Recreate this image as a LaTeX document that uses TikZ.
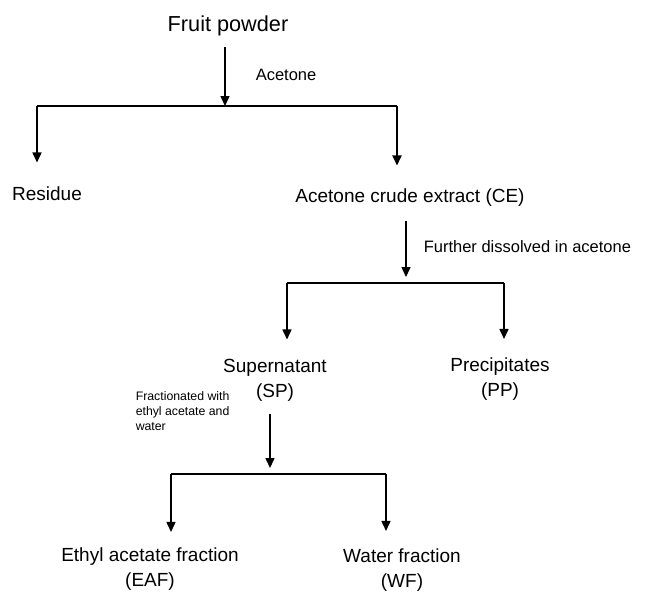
\documentclass[tikz,border=0pt]{standalone}
\usepackage{fontspec}
\setmainfont{Liberation Sans}
\usetikzlibrary{arrows.meta}
\begin{document}
\begin{tikzpicture}[x=1pt, y=-1pt, line width=1.5pt,
        arr/.style={-{Triangle[width=9pt,length=10pt]}},
        item/.style={anchor=base, inner sep=0pt, align=center, font=\fontsize{19}{24.5}\selectfont},
        cond/.style={anchor=base west, inner sep=0pt, font=\fontsize{16.5}{20}\selectfont}]
    \useasboundingbox (0,0) rectangle (648,592);
    \node[item, font=\fontsize{21.7}{26}\selectfont] (fp) at (228,31) {Fruit powder};
    \node[cond] (ac) at (255,80) {Acetone};
    \node[item] (res) at (47,200) {Residue};
    \node[item] (ce) at (410,202) {Acetone crude extract (CE)};
    \node[cond] (fd) at (423,252) {Further dissolved in acetone};
    \node[item] (sp) at (275,397) {Supernatant\\(SP)};
    \node[item] (pp) at (500,396) {Precipitates\\(PP)};
    \node[cond, align=left, font=\fontsize{12.3}{15}\selectfont] (fr) at (135,430) {Fractionated with\\ethyl acetate and\\water};
    \node[item] (eaf) at (150,586) {Ethyl acetate fraction\\(EAF)};
    \node[item] (wf) at (402,587) {Water fraction\\(WF)};

    \coordinate (s1) at (225,106);
    \coordinate (s1l) at (37,106);
    \coordinate (s1r) at (397,106);
    \draw[arr, shorten <=11pt] (fp.south -| s1) -- (s1);
    \draw (s1l) -- (s1r);
    \draw[arr, shorten >=23pt] (s1l) -- (s1l |- res.north);
    \draw[arr, line width=2pt, shorten >=22pt] (s1r) -- (s1r |- ce.north);

    \coordinate (s2) at (406,283);
    \coordinate (s2l) at (287,283);
    \coordinate (s2r) at (504,283);
    \draw[arr, shorten <=14pt, shorten >=6pt] (ce.south -| s2) -- (s2);
    \draw (s2l) -- (s2r);
    \draw[arr, shorten >=19pt] (s2l) -- (s2l |- sp.north);
    \draw[arr, shorten >=18pt] (s2r) -- (s2r |- pp.north);

    \coordinate (s3) at (270,474);
    \coordinate (s3l) at (171,474);
    \coordinate (s3r) at (386,474);
    \draw[arr, shorten <=12pt, shorten >=6pt] (sp.south -| s3) -- (s3);
    \draw (s3l) -- (s3r);
    \draw[arr, shorten >=15pt] (s3l) -- (s3l |- eaf.north);
    \draw[arr, shorten >=17pt] (s3r) -- (s3r |- wf.north);
\end{tikzpicture}
\end{document}
